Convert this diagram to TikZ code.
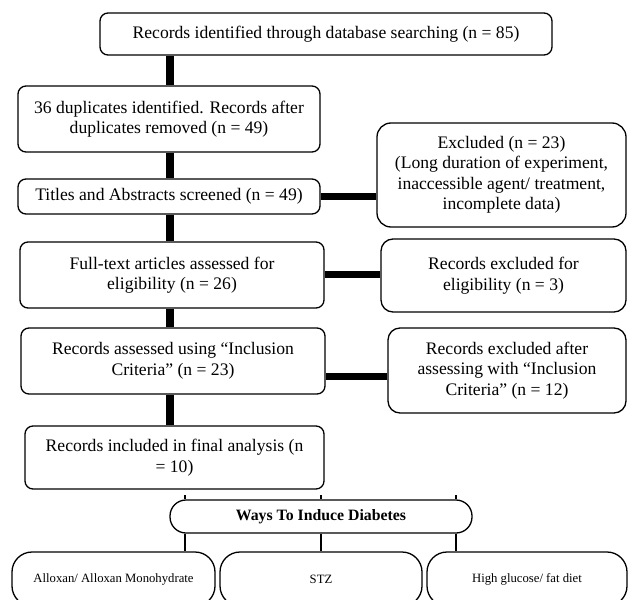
\documentclass[tikz,border=0pt]{standalone}
\usepackage{fontspec}
\setmainfont{Liberation Serif}
\newcommand\mainfs{\fontsize{17.6}{20.5}\selectfont}
\newcommand\smallfs{\fontsize{12.7}{15}\selectfont}
\newcommand\waysfs{\fontsize{15.8}{18}\selectfont\bfseries}
\begin{document}
\begin{tikzpicture}[x=1pt,y=-1pt,
  box/.style={draw, line width=1.3pt, rounded corners=8pt, align=center, font=\mainfs, inner sep=0pt},
  waysbox/.style={draw, line width=1.3pt, rounded corners=16pt, align=center, font=\waysfs, inner sep=0pt, minimum width=302pt, minimum height=33pt},
  leafbox/.style={draw, line width=1.3pt, rounded corners=20pt, align=center, font=\smallfs, inner sep=0pt, minimum height=54pt},
  thickv/.style={line width=8pt},
  thickh/.style={line width=7pt},
  thin/.style={line width=1.5pt}]
\useasboundingbox (0,0) rectangle (628,599);

\node[box, minimum width=452pt, minimum height=42pt] (B1) at (326,34)
  {Records identified through database searching (n = 85)};
\node[box, minimum width=302pt, minimum height=66pt] (B2) at (169,119)
  {36 duplicates identified. Records after\\duplicates removed (n = 49)};
\node[box, minimum width=302pt, minimum height=35pt] (B3) at (169,196.5)
  {Titles and Abstracts screened (n = 49)};
\node[box, minimum width=304pt, minimum height=66pt] (B4) at (172,275)
  {Full-text articles assessed for\\eligibility (n = 26)};
\node[box, minimum width=304pt, minimum height=66pt] (B5) at (173,361)
  {Records assessed using “Inclusion\\Criteria” (n = 23)};
\node[box, minimum width=299pt, minimum height=63pt] (B6) at (174.5,457.5)
  {Records included in final analysis (n\\= 10)};

\node[box, rounded corners=14pt, minimum width=249pt, minimum height=104pt] (E1) at (501.5,175)
  {Excluded (n = 23)\\(Long duration of experiment,\\inaccessible agent/ treatment,\\incomplete data)};
\node[box, rounded corners=12pt, minimum width=245pt, minimum height=73pt] (E2) at (503.5,275.5)
  {Records excluded for\\eligibility (n = 3)};
\node[box, rounded corners=12pt, minimum width=238pt, minimum height=85pt] (E3) at (507,370.5)
  {Records excluded after\\assessing with “Inclusion\\Criteria” (n = 12)};

\node[waysbox] (W) at (321,516.5) {Ways To Induce Diabetes};
\node[leafbox, minimum width=203pt] (A) at (113.5,579) {Alloxan/ Alloxan Monohydrate};
\node[leafbox, minimum width=202pt] (S) at (321,579) {STZ};
\node[leafbox, minimum width=200pt] (H) at (527,579) {High glucose/ fat diet};

\coordinate (spine) at (170,0);
\draw[thickv] (B1.south -| spine) -- (B2.north -| spine);
\draw[thickv] (B2.south -| spine) -- (B3.north -| spine);
\draw[thickv] (B3.south -| spine) -- (B4.north -| spine);
\draw[thickv] (B4.south -| spine) -- (B5.north -| spine);
\draw[thickv] (B5.south -| spine) -- (B6.north -| spine);

\coordinate (h1) at (0,196.5);
\coordinate (h2) at (0,274);
\coordinate (h3) at (0,376);
\draw[thickh] (B3.east |- h1) -- (E1.west |- h1);
\draw[thickh] (B4.east |- h2) -- (E2.west |- h2);
\draw[thickh] (B5.east |- h3) -- (E3.west |- h3);

\coordinate (t1) at (185,495);
\coordinate (t2) at (321,495);
\coordinate (t3) at (456,495);
\draw[thin] (t1) -- (t1 |- W.north);
\draw[thin] (t2) -- (t2 |- W.north);
\draw[thin] (t3) -- (t3 |- W.north);
\draw[thin] (t1 |- W.south) -- (t1 |- A.north);
\draw[thin] (t2 |- W.south) -- (t2 |- S.north);
\draw[thin] (t3 |- W.south) -- (t3 |- H.north);
\end{tikzpicture}
\end{document}
